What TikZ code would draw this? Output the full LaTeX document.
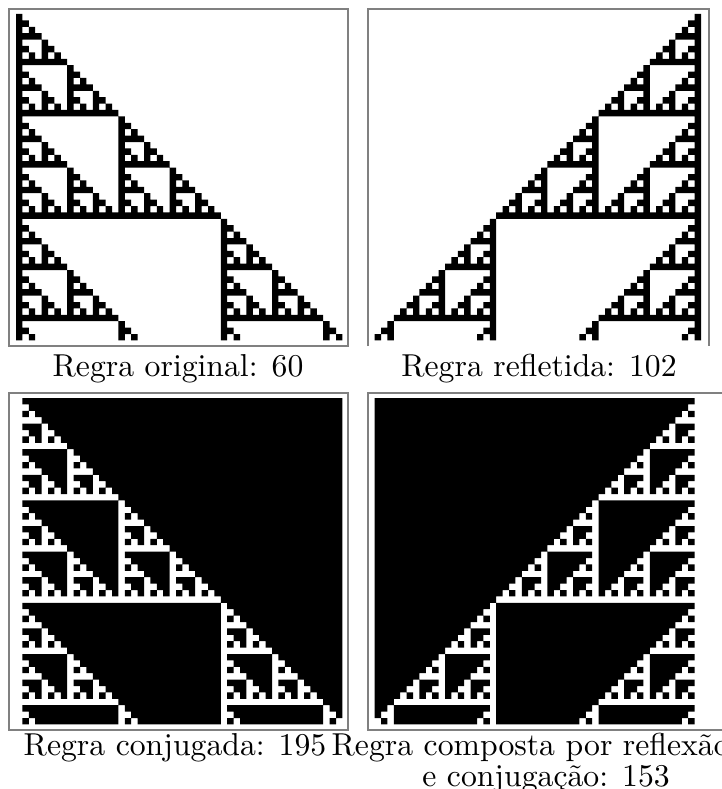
\documentclass[tikz,border=0pt]{standalone}
\newcount\ccA \newcount\ccB \newcount\ccQ
\newif\ifcellon
% cell (row #1, column #2) of rule 60 from one cell is on iff binom(#1,#2) is odd
\def\checkcell#1#2{%
  \cellontrue
  \ccA=#1\relax \ccB=#2\relax
  \loop
  \ifnum\ccB>0
    \ccQ=\ccB \divide\ccQ by 2 \multiply\ccQ by 2
    \ifnum\ccQ<\ccB
      \ccQ=\ccA \divide\ccQ by 2 \multiply\ccQ by 2
      \ifnum\ccQ=\ccA \cellonfalse\fi
    \fi
    \divide\ccA by 2 \divide\ccB by 2
  \repeat}
\tikzset{
  frame/.style={draw=black!50, line width=1.1pt},
  caption/.style={font=\fontsize{10}{12}\selectfont, inner sep=0pt, text=black,
    scale=3.17, transform shape},
}
\begin{document}
\begin{tikzpicture}[x=1pt,y=-1pt]
\useasboundingbox (0,0) rectangle (721,789);
\gdef\pathOn{}\gdef\pathOff{}
\foreach \ry in {0,...,50}{%
  \gdef\rowOn{}\gdef\rowOff{}%
  \foreach \cx in {0,...,50}{%
    \checkcell{\ry}{\cx}%
    \ifcellon
      \xdef\rowOn{\rowOn (\cx,\ry) rectangle ++(1,1)}%
    \else
      \xdef\rowOff{\rowOff (\cx,\ry) rectangle ++(1,1)}%
    \fi
  }%
  \xdef\pathOn{\pathOn\rowOn}%
  \xdef\pathOff{\pathOff\rowOff}%
}
% panels
\begin{scope}[shift={(16,14)},x=6.4pt,y=-6.4pt]
  \fill[black] \pathOn;
\end{scope}
\begin{scope}[shift={(701,14)},x=-6.4pt,y=-6.4pt]
  \fill[black] \pathOn;
\end{scope}
\begin{scope}[shift={(16,398)},x=6.4pt,y=-6.4pt]
  \fill[black] \pathOff;
\end{scope}
\begin{scope}[shift={(701,398)},x=-6.4pt,y=-6.4pt]
  \fill[black] \pathOff;
\end{scope}
% frames
\draw[frame] (9,9) rectangle (348,346);
\draw[frame] (368,346) -- (368,9) -- (709,9) -- (709,346);
\draw[frame] (9,393) rectangle (348,730);
\draw[frame] (725,393) -- (368,393) -- (368,730) -- (725,730);
% captions
\node[caption, anchor=base] (c1) at (178,376) {Regra original: 60};
\node[caption, anchor=base] (c2) at (539,376) {Regra refletida: 102};
\node[caption, anchor=base] (c3) at (175,755) {Regra conjugada: 195};
\node[caption, anchor=base west] (c4a) at (331,755) {Regra composta por reflexão};
\node[caption, anchor=base] (c4b) at (546,786) {e conjugação: 153};
\end{tikzpicture}
\end{document}
